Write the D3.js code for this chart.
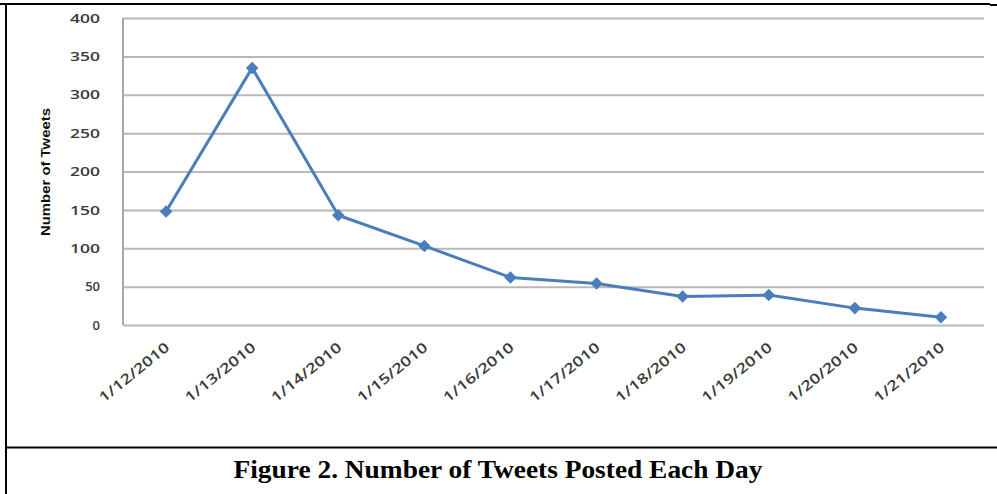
<!DOCTYPE html>
<html>
<head>
<meta charset="utf-8">
<script src="https://cdn.jsdelivr.net/npm/d3@7"></script>
<style>
  body { margin: 0; background: #fff; }
  svg { display: block; }
</style>
</head>
<body>
<svg id="chart"></svg>
<script>
let dates = ["1/12/2010", "1/13/2010", "1/14/2010", "1/15/2010", "1/16/2010",
             "1/17/2010", "1/18/2010", "1/19/2010", "1/20/2010", "1/21/2010"];
let tweets = [148, 335, 143, 103, 62, 54, 37, 39, 22, 10];
let yTicks = [0, 50, 100, 150, 200, 250, 300, 350, 400];

let width = 997;
let height = 494;
let plotLeft = 123;
let plotRight = 984;
let plotTop = 18;
let plotBottom = 325;
let lineColor = "#4a7ebb";

let svg = d3.select("#chart").attr("width", width).attr("height", height);

let x = d3.scalePoint().domain(dates).range([plotLeft, plotRight]).padding(0.5);
let y = d3.scaleLinear().domain([0, 400]).range([plotBottom, plotTop]);

// frame of the figure
svg.append("line").attr("x1", 0).attr("x2", 990).attr("y1", 4).attr("y2", 4)
  .attr("stroke", "#000").attr("stroke-width", 2);
svg.append("line").attr("x1", 990).attr("x2", width).attr("y1", 5).attr("y2", 5)
  .attr("stroke", "#000").attr("stroke-width", 2);
svg.append("line").attr("x1", 6).attr("x2", 6).attr("y1", 3).attr("y2", height)
  .attr("stroke", "#000").attr("stroke-width", 2);
svg.append("line").attr("x1", 5).attr("x2", width).attr("y1", 447.5).attr("y2", 447.5)
  .attr("stroke", "#000").attr("stroke-width", 2);

// gridlines
let yAxis = d3.axisLeft(y).tickValues(yTicks).tickSize(-(plotRight - plotLeft)).tickPadding(22);
let gy = svg.append("g").attr("transform", `translate(${plotLeft},0)`).call(yAxis);
gy.select(".domain").remove();
gy.selectAll(".tick line").attr("stroke", "#b8b8b8").attr("stroke-width", 2);
gy.selectAll(".tick text")
  .attr("fill", "#3a3a3a")
  .style("font-family", "'Open Sans', 'DejaVu Sans', sans-serif")
  .style("font-size", "13px")
  .style("font-weight", "600")
  .attr("textLength", 30)
  .attr("lengthAdjust", "spacingAndGlyphs")
  .attr("x", -23);
gy.selectAll(".tick").filter(d => d < 100).select("text").attr("textLength", null);

// axis line at left
svg.append("line").attr("x1", plotLeft).attr("x2", plotLeft)
  .attr("y1", plotTop).attr("y2", plotBottom)
  .attr("stroke", "#a8a8a8").attr("stroke-width", 2);

// x axis labels
let xAxis = d3.axisBottom(x).tickSize(0).tickPadding(0);
let gx = svg.append("g").attr("transform", `translate(0,${plotBottom})`).call(xAxis);
gx.select(".domain").remove();
gx.selectAll(".tick text")
  .attr("fill", "#3a3a3a")
  .attr("text-anchor", "end")
  .attr("dy", null)
  .attr("y", 0)
  .attr("transform", "translate(4,24) rotate(-39)")
  .style("font-family", "'Open Sans', 'DejaVu Sans', sans-serif")
  .style("font-size", "14px")
  .style("font-weight", "600")
  .attr("textLength", 86)
  .attr("lengthAdjust", "spacingAndGlyphs");

// y axis title
svg.append("text")
  .attr("transform", `translate(50,172) rotate(-90)`)
  .attr("text-anchor", "middle")
  .style("font-family", "'Liberation Sans Narrow', 'Liberation Sans', sans-serif")
  .style("font-weight", "bold")
  .style("font-size", "13px")
  .attr("fill", "#111")
  .attr("textLength", 128)
  .attr("lengthAdjust", "spacingAndGlyphs")
  .text("Number of Tweets");

// line and markers
let line = d3.line().x((d, i) => x(dates[i])).y(d => y(d));
svg.append("path").datum(tweets)
  .attr("d", line)
  .attr("fill", "none")
  .attr("stroke", lineColor)
  .attr("stroke-width", 3)
  .attr("stroke-linejoin", "round");

let diamond = d3.symbol().type(d3.symbolDiamond2).size(100);
svg.selectAll(".marker").data(tweets).enter().append("path")
  .attr("class", "marker")
  .attr("d", diamond)
  .attr("transform", (d, i) => `translate(${x(dates[i])},${y(d)})`)
  .attr("fill", lineColor);

// caption
svg.append("text")
  .attr("x", 498)
  .attr("y", 478)
  .attr("text-anchor", "middle")
  .style("font-family", "'Liberation Serif', 'Times New Roman', serif")
  .style("font-weight", "bold")
  .style("font-size", "25px")
  .attr("fill", "#000")
  .attr("textLength", 529)
  .attr("lengthAdjust", "spacingAndGlyphs")
  .text("Figure 2. Number of Tweets Posted Each Day");
</script>
</body>
</html>
